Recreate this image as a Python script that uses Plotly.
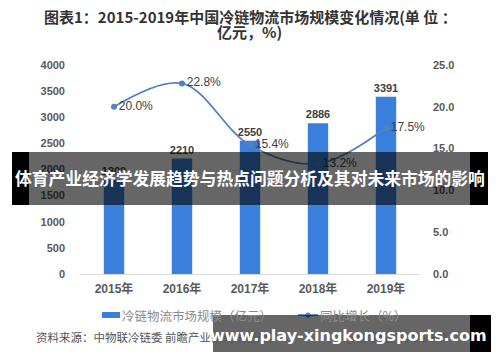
import plotly.graph_objects as go

years = ["2015年", "2016年", "2017年", "2018年", "2019年"]
market_size = [1800, 2210, 2550, 2886, 3391]
growth = [20.0, 22.8, 15.4, 13.2, 17.5]
growth_labels = ["20.0%", "22.8%", "15.4%", "13.2%", "17.5%"]
left_ticks = [0, 500, 1000, 1500, 2000, 2500, 3000, 3500, 4000]
right_ticks = [0, 5, 10, 15, 20, 25]

title_line1 = "图表1：2015-2019年中国冷链物流市场规模变化情况(单 位 ："
title_line2 = "亿元，%)"
legend_bar = "冷链物流市场规模（亿元）"
legend_line = "同比增长（%）"
banner_text = "体育产业经济学发展趋势与热点问题分析及其对未来市场的影响"
site_text = "www.play-xingkongsports.com"
source_text = "资料来源：中物联冷链委 前瞻产业研究院整理"
credit_text = "@前瞻经济学人APP"

FONT = "Liberation Sans, Noto Sans CJK SC, sans-serif"
CJK = "Noto Sans CJK SC, sans-serif"

# page offset (default body margin) and target plot area in screen pixels
OFF = 8
SL, SR, ST, SB = 80, 420, 65, 274
L, R, T, B = SL - OFF, SR - OFF, ST - OFF, SB - OFF
W, H = 500, 362

def px(x):
    return (x - SL) / (SR - SL)
def py(y):
    return (SB - y) / (SB - ST)

BAR_COLOR = "#3B7FDC"
LINE_COLOR = "#5282BE"

fig = go.Figure()
fig.add_trace(go.Bar(
    x=years, y=market_size, name=legend_bar,
    marker=dict(color=BAR_COLOR, line=dict(width=0)),
    text=[str(v) for v in market_size], textposition="outside",
    constraintext="none",
    textfont=dict(family=FONT, size=11, color="#404040", weight="bold"),
    cliponaxis=False, showlegend=False,
))
fig.add_trace(go.Scatter(
    x=years, y=growth, name=legend_line, yaxis="y2",
    mode="lines+markers+text",
    line=dict(color=LINE_COLOR, width=1.8, shape="spline", smoothing=1.0),
    marker=dict(color=LINE_COLOR, size=6),
    text=growth_labels, textposition="middle right",
    textfont=dict(family=FONT, size=12, color="#404040"),
    cliponaxis=False, showlegend=False,
))

def rect(x0, x1, y0, y1, color):
    return dict(type="rect", xref="paper", yref="paper", x0=px(x0), x1=px(x1),
                y0=py(y1), y1=py(y0), fillcolor=color, line=dict(width=0), layer="above")

shapes = [
    # legend symbols
    dict(type="rect", xref="paper", yref="paper", x0=px(102), x1=px(120), y0=py(318), y1=py(312),
         fillcolor=BAR_COLOR, line=dict(width=0), layer="below"),
    dict(type="line", xref="paper", yref="paper", x0=px(298), x1=px(318), y0=py(315), y1=py(315),
         line=dict(color=LINE_COLOR, width=1.8), layer="below"),
    dict(type="circle", xref="paper", yref="paper", x0=px(305.5), x1=px(310.5), y0=py(317.5), y1=py(312.5),
         fillcolor=LINE_COLOR, line=dict(width=0), layer="below"),
    # overlay banners
    rect(12, 29, 152, 205, "black"),
    rect(29, 470, 152, 205, "rgba(0,0,0,0.6)"),
    rect(470, 488, 152, 205, "black"),
    rect(213, 470, 315, 352, "rgba(0,0,0,0.6)"),
    rect(470, 491, 315, 352, "black"),
]

annotations = [
    dict(text=title_line1, xref="paper", yref="paper", x=px(250), y=py(17),
         xanchor="center", yanchor="middle", showarrow=False,
         font=dict(family=CJK, size=15, color="#333333", weight="bold")),
    dict(text=title_line2, xref="paper", yref="paper", x=px(249), y=py(31),
         xanchor="center", yanchor="middle", showarrow=False,
         font=dict(family=CJK, size=15, color="#333333", weight="bold")),
    dict(text=legend_bar, xref="paper", yref="paper", x=px(120), y=py(315),
         xanchor="left", yanchor="middle", showarrow=False,
         font=dict(family=CJK, size=12.5, color="#8a8a8a")),
    dict(text=legend_line, xref="paper", yref="paper", x=px(318), y=py(315),
         xanchor="left", yanchor="middle", showarrow=False,
         font=dict(family=CJK, size=12.5, color="#8a8a8a")),
    dict(text=source_text, xref="paper", yref="paper", x=px(34), y=py(337),
         xanchor="left", yanchor="middle", showarrow=False,
         font=dict(family=CJK, size=11.5, color="#555555")),
    dict(text=credit_text, xref="paper", yref="paper", x=px(343), y=py(337),
         xanchor="left", yanchor="middle", showarrow=False,
         font=dict(family=CJK, size=11.5, color="#555555")),
    dict(text=banner_text, xref="paper", yref="paper", x=px(250), y=py(178),
         xanchor="center", yanchor="middle", showarrow=False,
         font=dict(family=CJK, size=16.8, color="white", weight="bold")),
    dict(text=site_text, xref="paper", yref="paper", x=px(348), y=py(335),
         xanchor="center", yanchor="middle", showarrow=False,
         font=dict(family="DejaVu Sans, sans-serif", size=16, color="white", weight="bold")),
]

fig.update_layout(
    width=W, height=H,
    margin=dict(l=L, r=W - R, t=T, b=H - B, autoexpand=False),
    paper_bgcolor="white", plot_bgcolor="white",
    bargap=0.7,
    showlegend=False,
    xaxis=dict(showgrid=False, showline=True, linecolor="#d9d9d9", linewidth=1,
               ticks="", ticklabelstandoff=4, automargin=False,
               tickfont=dict(family=FONT, size=12, color="#595959", weight="bold")),
    yaxis=dict(range=[0, 4000], tickvals=left_ticks, showgrid=False, zeroline=False,
               showline=False, ticks="", ticklabelstandoff=14, automargin=False,
               tickfont=dict(family=FONT, size=11, color="#595959", weight="bold")),
    yaxis2=dict(range=[0, 25], tickvals=right_ticks, overlaying="y", side="right",
                showgrid=False, zeroline=False, showline=False, ticks="",
                tickformat=".1f", ticksuffix="%", ticklabelstandoff=12, automargin=False,
                tickfont=dict(family=FONT, size=11, color="#595959", weight="bold")),
    shapes=shapes,
    annotations=annotations,
)

fig.write_html("out.html")
